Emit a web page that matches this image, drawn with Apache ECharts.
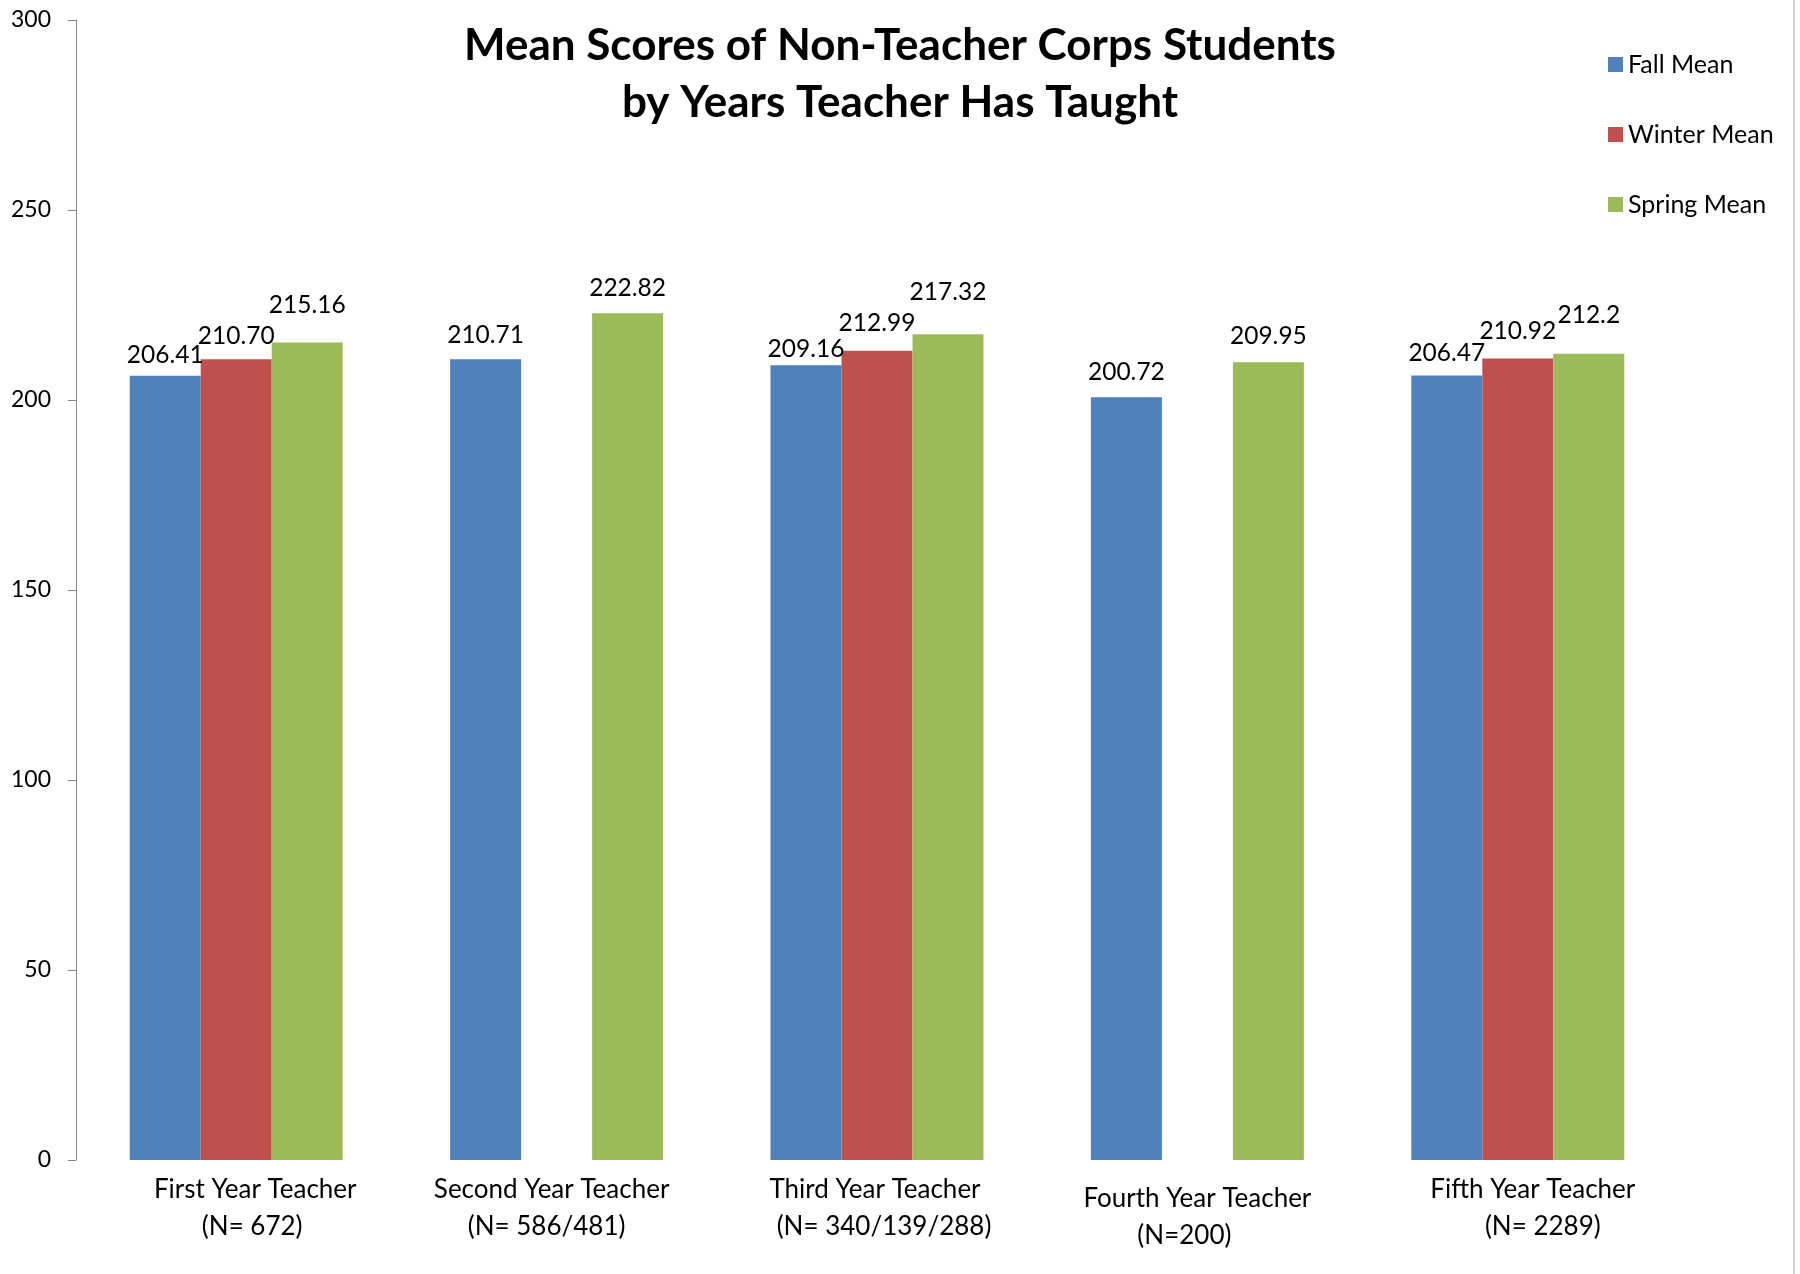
<!DOCTYPE html>
<html>
<head>
<meta charset="utf-8">
<script src="https://cdn.jsdelivr.net/npm/echarts@6/dist/echarts.min.js"></script>
<style>
    html, body {margin: 0; padding: 0; background: #fff;}
    #main {width: 1800px; height: 1274px;}
</style>
</head>
<body>
<div id="main"></div>
<script>
    // categories (two-line axis labels)
    const categories = [
        'First Year Teacher\n(N= 672)',
        'Second Year Teacher\n(N= 586/481)',
        'Third Year Teacher\n(N= 340/139/288)',
        'Fourth Year Teacher\n(N=200)',
        'Fifth Year Teacher\n(N= 2289)'
    ];
    // values kept as printed on the chart (null = no bar)
    const fallMean = ['206.41', '210.71', '209.16', '200.72', '206.47'];
    const winterMean = ['210.70', null, '212.99', null, '210.92'];
    const springMean = ['215.16', '222.82', '217.32', '209.95', '212.2'];
    const yTicks = [0, 50, 100, 150, 200, 250, 300];

    const seriesNames = ['Fall Mean', 'Winter Mean', 'Spring Mean'];
    const colors = ['#4F81BD', '#C0504D', '#9BBB59'];
    const font = 'Lato, "Open Sans", sans-serif';

    // styling only: the labels were nudged by hand in the original
    const labelShift = [[19, 16], [-5, -10], [-2, 7], [0, -13], [15, 25]];  // axis label lines, px
    const labelLift = [                                                      // value label distance, px
        [8, 12, 3.5, 13, 10],
        [10.5, 0, 15, 0, 15],
        [24.5, 13, 29.5, 13.5, 26.5]
    ];

    function toData(arr, lift) {
        return arr.map(function (v, i) {
            if (v === null) return '-';
            return {value: Number(v), label: {formatter: v, distance: lift[i]}};
        });
    }

    // rich styles for the shifted axis label lines
    let rich = {gap: {lineHeight: 9, fontSize: 1}};
    labelShift.forEach(function (pair, i) {
        pair.forEach(function (s, j) {
            rich['s' + i + '_' + j] = {
                fontSize: 26,
                lineHeight: 37,
                color: '#000',
                padding: s >= 0 ? [0, 0, 0, 2 * s] : [0, -2 * s, 0, 0]
            };
        });
    });

    let chart = echarts.init(document.getElementById('main'));

    chart.setOption({
        animation: false,
        color: colors,
        textStyle: {fontFamily: font},
        title: {
            text: 'Mean Scores of Non-Teacher Corps Students\nby Years Teacher Has Taught',
            left: 'center',
            top: 12,
            textStyle: {
                fontFamily: font,
                fontWeight: 'bold',
                fontSize: 44,
                lineHeight: 57,
                color: '#000'
            }
        },
        legend: {
            orient: 'vertical',
            left: 1608,
            top: 52,
            padding: 0,
            itemWidth: 15,
            itemHeight: 15,
            itemGap: 45,
            icon: 'rect',
            textStyle: {fontSize: 25, lineHeight: 24, color: '#000'},
            data: seriesNames
        },
        grid: {
            left: 76,
            right: 122,
            top: 20,
            bottom: 114
        },
        xAxis: {
            type: 'category',
            data: categories,
            axisLine: {show: false},
            axisTick: {show: false},
            axisLabel: {
                interval: 0,
                margin: 11,
                fontSize: 26,
                lineHeight: 37,
                color: '#000',
                formatter: function (value, index) {
                    let lines = value.split('\n').map(function (l, j) {
                        return '{s' + index + '_' + j + '|' + l + '}';
                    });
                    // 4th label sits a bit lower in the original
                    if (index === 3) {
                        lines.unshift('{gap|}');
                    }
                    return lines.join('\n');
                },
                rich: rich
            }
        },
        yAxis: {
            type: 'value',
            min: 0,
            max: 300,
            interval: 50,
            splitLine: {show: false},
            axisLine: {show: true, lineStyle: {color: '#868686', width: 1}},
            axisTick: {show: true, length: 8, lineStyle: {color: '#868686'}},
            axisLabel: {
                margin: 25,
                fontSize: 23,
                color: '#000',
                customValues: yTicks
            }
        },
        graphic: [{
            type: 'line',
            shape: {x1: 1794, y1: 0, x2: 1794, y2: 1274},
            style: {stroke: '#a0a0a0', lineWidth: 1}
        }],
        series: [
            {
                name: seriesNames[0],
                type: 'bar',
                barWidth: 71,
                barGap: '0%',
                data: toData(fallMean, labelLift[0]),
                label: {show: true, position: 'top', fontSize: 24.5, color: '#000'}
            },
            {
                name: seriesNames[1],
                type: 'bar',
                barWidth: 71,
                barGap: '0%',
                data: toData(winterMean, labelLift[1]),
                label: {show: true, position: 'top', fontSize: 24.5, color: '#000'}
            },
            {
                name: seriesNames[2],
                type: 'bar',
                barWidth: 71,
                barGap: '0%',
                data: toData(springMean, labelLift[2]),
                label: {show: true, position: 'top', fontSize: 24.5, color: '#000'}
            }
        ]
    });
</script>
</body>
</html>
